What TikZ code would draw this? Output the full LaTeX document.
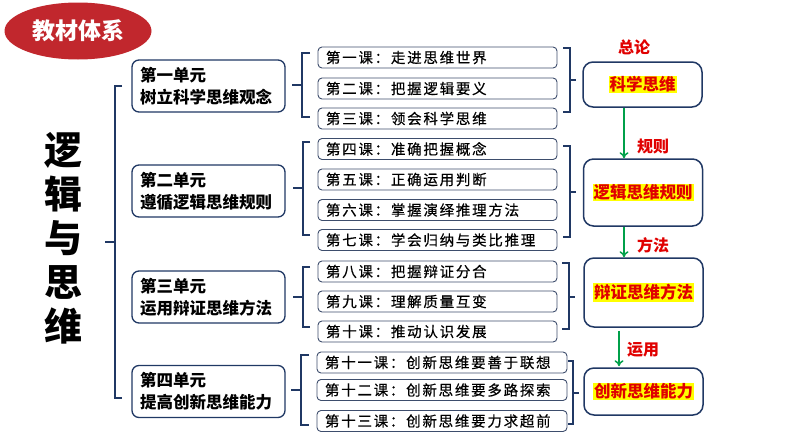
\documentclass[tikz,border=0pt]{standalone}
\usepackage{fontspec}
\setmainfont{Noto Sans CJK SC}
\newfontfamily\lessonfont[LetterSpace=12, FakeBold=0.5]{Noto Sans CJK SC}
\usepackage{tikz}
\usetikzlibrary{shapes.geometric, arrows.meta, positioning}
\definecolor{navy}{HTML}{203864}
\definecolor{tagred}{HTML}{C1272D}
\definecolor{flowgreen}{HTML}{00A04A}
\definecolor{labelred}{HTML}{E00000}
\definecolor{hlyellow}{HTML}{FFFF00}
\tikzset{
  brk/.style={navy, line width=1.4pt},
  unitbox/.style={draw=navy, line width=1.3pt, rounded corners=7pt, fill=white,
    minimum height=52pt, text width=137pt, inner xsep=8pt, align=left,
    font=\bfseries\fontsize{16.5}{22}\selectfont},
  lessonbox/.style={draw=navy!70!gray, line width=0.9pt, rounded corners=4pt,
    minimum height=21pt, text width=223pt, inner xsep=8pt, inner ysep=0pt, align=left,
    font=\lessonfont\fontsize{14.5}{16}\selectfont},
  sumbox/.style={draw=navy, line width=1.5pt, rounded corners=10pt, fill=white,
    minimum width=119pt, text=labelred, font=\bfseries\fontsize{16.5}{18}\selectfont},
  flowlabel/.style={text=labelred, font=\bfseries\fontsize{16}{18}\selectfont},
  flow/.style={flowgreen, line width=1.5pt, -{To[length=6pt,width=9pt]}},
}
\newcommand{\hl}[1]{{\setlength{\fboxsep}{1pt}\colorbox{hlyellow}{#1}}}
\begin{document}
\begin{tikzpicture}[x=1pt, y=-1pt]
  \useasboundingbox (0,0) rectangle (794,447);
  % Tag and title
  \node [ellipse, fill=tagred, minimum width=147pt, minimum height=57pt,
    text=white, font=\bfseries\fontsize{23}{24}\selectfont] (tag) at (78,31) {教材体系};
  \node [align=center, font=\bfseries\fontsize{38}{44}\selectfont] (title) at (63,238)
    {逻\\辑\\与\\思\\维};
  % Units
  \node [unitbox] (u1) at (208.5,86) {第一单元\\树立科学思维观念};
  \node [unitbox] (u2) at (208.5,191) {第二单元\\遵循逻辑思维规则};
  \node [unitbox] (u3) at (208.5,297) {第三单元\\运用辩证思维方法};
  \node [unitbox] (u4) at (208.5,391.5) {第四单元\\提高创新思维能力};
  % Lessons
  \node [lessonbox] (l1) at (437.5,57.5) {第一课：走进思维世界};
  \node [lessonbox] (l2) at (437.5,88.5) {第二课：把握逻辑要义};
  \node [lessonbox] (l3) at (437.5,118.5) {第三课：领会科学思维};
  \node [lessonbox] (l4) at (437.5,149) {第四课：准确把握概念};
  \node [lessonbox] (l5) at (437.5,179.5) {第五课：正确运用判断};
  \node [lessonbox] (l6) at (437.5,210) {第六课：掌握演绎推理方法};
  \node [lessonbox] (l7) at (437.5,240) {第七课：学会归纳与类比推理};
  \node [lessonbox] (l8) at (437.5,271.5) {第八课：把握辩证分合};
  \node [lessonbox] (l9) at (437.5,301.5) {第九课：理解质量互变};
  \node [lessonbox] (l10) at (437.5,331.5) {第十课：推动认识发展};
  \node [lessonbox, text width=234pt] (l11) at (442,362.5) {第十一课：创新思维要善于联想};
  \node [lessonbox, text width=234pt] (l12) at (442,390) {第十二课：创新思维要多路探索};
  \node [lessonbox, text width=234pt] (l13) at (442,421) {第十三课：创新思维要力求超前};
  % Summary boxes
  \node [sumbox, minimum height=45pt] (s1) at (642.5,84.5) {\hl{科学思维}};
  \node [sumbox, minimum height=67pt] (s2) at (643,192.5) {\hl{逻辑思维规则}};
  \node [sumbox, minimum height=69pt] (s3) at (643.5,292.5) {\hl{辩证思维方法}};
  \node [sumbox, minimum height=47pt] (s4) at (643.5,391.5) {\hl{创新思维能力}};
  \node [flowlabel] (z1) at (634,47) {总论};
  \node [flowlabel] (z2) at (653,147) {规则};
  \node [flowlabel] (z3) at (653,245) {方法};
  \node [flowlabel] (z4) at (643,350) {运用};
  % Flow arrows
  \draw [flow] ([xshift=-18.5pt]s1.south) -- ([xshift=-19pt]s2.north);
  \draw [flow] ([xshift=-19pt]s2.south) -- ([xshift=-19.5pt]s3.north);
  \draw [flow] ([xshift=-24.5pt,yshift=-3pt]s3.south) -- ([xshift=-24.5pt,yshift=1pt]s4.north);
  % Big bracket
  \draw [brk] (122,86) -- (115,86) -- (115,398) -- (122,398);
  \draw [brk] (115,242) -- (105,242);
  % Left brackets
  \draw [brk] (310,53) -- (302,53) -- (302,117) -- (310,117);
  \draw [brk] (302,85) -- (292,85);
  \draw [brk] (310,142) -- (303,142) -- (303,235) -- (310,235);
  \draw [brk] (303,188) -- (293,188);
  \draw [brk] (310,267) -- (303,267) -- (303,327) -- (310,327);
  \draw [brk] (303,297) -- (293,297);
  \draw [brk] (309,355) -- (301,355) -- (301,425) -- (309,425);
  \draw [brk] (301,390) -- (291,390);
  % Right brackets
  \draw [brk] (563,48) -- (570,48) -- (570,112) -- (563,112);
  \draw [brk] (570,80) -- (576,80);
  \draw [brk] (563,146) -- (570,146) -- (570,237) -- (563,237);
  \draw [brk] (570,192) -- (576,192);
  \draw [brk] (562,263) -- (569,263) -- (569,329) -- (562,329);
  \draw [brk] (569,297) -- (575,297);
  \draw [brk] (568,361) -- (573,361) -- (573,424) -- (568,424);
  \draw [brk] (573,393) -- (579,393);
\end{tikzpicture}
\end{document}
